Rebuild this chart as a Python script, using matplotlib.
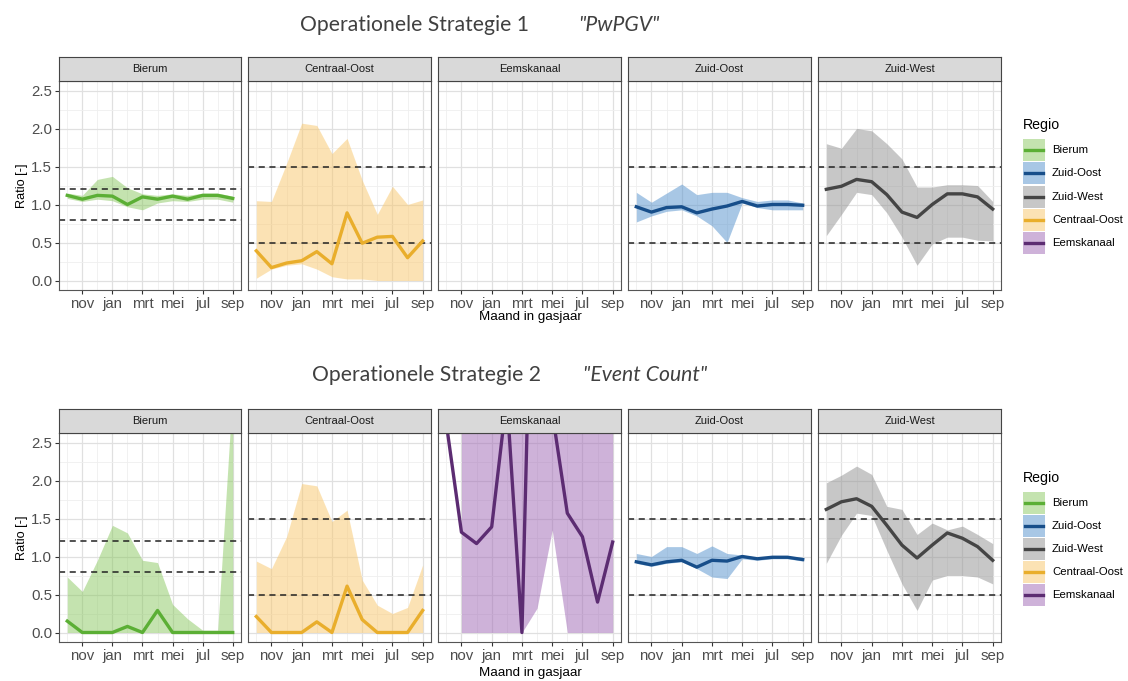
import numpy as np
import matplotlib
matplotlib.use('Agg')
import matplotlib.pyplot as plt
from matplotlib.patches import Rectangle
from matplotlib.lines import Line2D
from matplotlib.ticker import FixedLocator

# ---------------- data ----------------
months = ['okt', 'nov', 'dec', 'jan', 'feb', 'mrt', 'apr', 'mei', 'jun', 'jul', 'aug', 'sep']
tick_labels = ['nov', 'jan', 'mrt', 'mei', 'jul', 'sep']
regions = ['Bierum', 'Centraal-Oost', 'Eemskanaal', 'Zuid-Oost', 'Zuid-West']
legend_order = ['Bierum', 'Zuid-Oost', 'Zuid-West', 'Centraal-Oost', 'Eemskanaal']
nan = float('nan')

# Strategy 1 "PwPGV"
bierum1_mid = [1.12, 1.07, 1.12, 1.11, 1.00, 1.10, 1.07, 1.11, 1.07, 1.12, 1.12, 1.08]
bierum1_lo = [1.08, 1.04, 1.07, 1.05, 0.97, 0.93, 1.02, 1.05, 1.04, 1.07, 1.07, 1.03]
bierum1_hi = [1.15, 1.12, 1.33, 1.37, 1.22, 1.14, 1.12, 1.14, 1.12, 1.15, 1.15, 1.11]
centraal1_mid = [0.39, 0.17, 0.23, 0.26, 0.38, 0.22, 0.89, 0.49, 0.57, 0.58, 0.30, 0.52]
centraal1_lo = [0.03, 0.15, 0.20, 0.22, 0.15, 0.05, 0.02, 0.02, 0.00, 0.00, 0.00, 0.00]
centraal1_hi = [1.05, 1.04, 1.54, 2.07, 2.04, 1.67, 1.87, 1.32, 0.87, 1.24, 1.00, 1.06]
zuidoost1_mid = [0.97, 0.90, 0.96, 0.97, 0.89, 0.94, 0.98, 1.04, 0.98, 1.00, 1.00, 0.99]
zuidoost1_lo = [0.77, 0.85, 0.91, 0.93, 0.85, 0.72, 0.50, 1.02, 0.96, 0.93, 0.93, 0.93]
zuidoost1_hi = [1.16, 1.03, 1.15, 1.27, 1.13, 1.16, 1.16, 1.09, 1.04, 1.06, 1.06, 1.02]
zuidwest1_mid = [1.20, 1.24, 1.33, 1.30, 1.13, 0.90, 0.83, 1.00, 1.14, 1.14, 1.10, 0.94]
zuidwest1_lo = [0.59, 0.87, 1.16, 1.13, 0.89, 0.57, 0.20, 0.48, 0.57, 0.57, 0.53, 0.52]
zuidwest1_hi = [1.80, 1.74, 2.00, 1.97, 1.80, 1.60, 1.23, 1.23, 1.26, 1.26, 1.25, 1.04]

# Strategy 2 "Event Count"
bierum2_mid = [0.15, 0.00, 0.00, 0.00, 0.08, 0.00, 0.29, 0.00, 0.00, 0.00, 0.00, 0.00]
bierum2_lo = [0.00, 0.00, 0.00, 0.00, 0.00, 0.00, 0.00, 0.00, 0.00, 0.00, 0.00, 0.00]
bierum2_hi = [0.73, 0.54, 0.95, 1.41, 1.31, 0.95, 0.92, 0.37, 0.18, 0.03, 0.03, 3.20]
centraal2_mid = [0.21, 0.00, 0.00, 0.00, 0.14, 0.00, 0.61, 0.17, 0.00, 0.00, 0.00, 0.29]
centraal2_lo = [0.00, 0.00, 0.00, 0.00, 0.00, 0.00, 0.00, 0.00, 0.00, 0.00, 0.00, 0.00]
centraal2_hi = [0.94, 0.84, 1.26, 1.96, 1.93, 1.46, 1.61, 0.69, 0.36, 0.25, 0.33, 0.89]
eems2_mid = [2.75, 1.32, 1.17, 1.39, 3.10, 0.00, 7.90, 2.90, 1.57, 1.26, 0.40, 1.19]
eems2_lo = [nan, 0.00, 0.00, 0.00, 0.00, 0.00, 0.32, 1.35, 0.00, 0.00, 0.00, 0.00]
eems2_hi = [nan, 5.00, 5.00, 5.00, 5.00, 5.00, 5.00, 5.00, 5.00, 5.00, 5.00, 5.00]
zuidoost2_mid = [0.93, 0.89, 0.93, 0.95, 0.86, 0.95, 0.94, 1.00, 0.97, 0.99, 0.99, 0.96]
zuidoost2_lo = [0.91, 0.87, 0.91, 0.93, 0.84, 0.73, 0.71, 0.97, 0.95, 0.97, 0.97, 0.94]
zuidoost2_hi = [1.04, 1.00, 1.13, 1.13, 1.04, 1.14, 1.04, 1.02, 0.99, 1.00, 1.00, 0.99]
zuidwest2_mid = [1.62, 1.72, 1.76, 1.66, 1.41, 1.15, 0.98, 1.15, 1.31, 1.24, 1.13, 0.95]
zuidwest2_lo = [0.91, 1.28, 1.57, 1.54, 1.08, 0.64, 0.29, 0.69, 0.75, 0.75, 0.73, 0.64]
zuidwest2_hi = [1.97, 2.07, 2.19, 2.08, 1.66, 1.62, 1.29, 1.44, 1.35, 1.40, 1.29, 1.17]

ref_bierum = [0.8, 1.2]
ref_other = [0.5, 1.5]

strat1 = {
    'Bierum': (bierum1_mid, bierum1_lo, bierum1_hi),
    'Centraal-Oost': (centraal1_mid, centraal1_lo, centraal1_hi),
    'Eemskanaal': None,
    'Zuid-Oost': (zuidoost1_mid, zuidoost1_lo, zuidoost1_hi),
    'Zuid-West': (zuidwest1_mid, zuidwest1_lo, zuidwest1_hi),
}
strat2 = {
    'Bierum': (bierum2_mid, bierum2_lo, bierum2_hi),
    'Centraal-Oost': (centraal2_mid, centraal2_lo, centraal2_hi),
    'Eemskanaal': (eems2_mid, eems2_lo, eems2_hi),
    'Zuid-Oost': (zuidoost2_mid, zuidoost2_lo, zuidoost2_hi),
    'Zuid-West': (zuidwest2_mid, zuidwest2_lo, zuidwest2_hi),
}
refs = {'Bierum': ref_bierum, 'Centraal-Oost': ref_other, 'Eemskanaal': [],
        'Zuid-Oost': ref_other, 'Zuid-West': ref_other}

# ---------------- style ----------------
line_col = {'Bierum': '#5BAF35', 'Centraal-Oost': '#E9AE2C', 'Eemskanaal': '#5C2C72',
            'Zuid-Oost': '#174E8A', 'Zuid-West': '#454545'}
fill_col = {'Bierum': '#8AC860', 'Centraal-Oost': '#F9C76B', 'Eemskanaal': '#9F67B5',
            'Zuid-Oost': '#5391CD', 'Zuid-West': '#919191'}

plt.rcParams['font.family'] = ['Liberation Sans', 'DejaVu Sans']

W, H = 1128, 681
fig = plt.figure(figsize=(W / 100, H / 100), dpi=100)


def ax_px(x0, y0, x1, y1):
    return fig.add_axes([x0 / W, 1 - y1 / H, (x1 - x0) / W, (y1 - y0) / H])


panel_x = [(59, 241), (248, 431), (438, 621), (628, 811), (818, 1001)]
rows = [
    dict(data=strat1, strip=(57, 81), panel=(81, 290), title_y=25,
         t1='Operationele Strategie 1', t1x=300, t2='"PwPGV"', t2x=578,
         xlab_y=317, leg_title_y=125, leg_y=[150, 173, 197, 220, 243]),
    dict(data=strat2, strip=(409, 433), panel=(433, 642), title_y=375,
         t1='Operationele Strategie 2', t1x=312, t2='"Event Count"', t2x=583,
         xlab_y=673, leg_title_y=478, leg_y=[503, 526, 549, 572, 595]),
]

xi = np.arange(len(months))
major_x = [months.index(m) for m in tick_labels]
minor_x = [i for i in xi if i not in major_x]
yt = [0.0, 0.5, 1.0, 1.5, 2.0, 2.5]
ym = [0.25, 0.75, 1.25, 1.75, 2.25]

for row in rows:
    for k, reg in enumerate(regions):
        x0, x1 = panel_x[k]
        ax = ax_px(x0, row['panel'][0], x1, row['panel'][1])
        ax.set_xlim(-0.55, 11.55)
        ax.set_ylim(-0.125, 2.625)
        ax.xaxis.set_major_locator(FixedLocator(major_x))
        ax.set_xticklabels(tick_labels)
        ax.xaxis.set_minor_locator(FixedLocator(minor_x))
        ax.yaxis.set_major_locator(FixedLocator(yt))
        ax.set_yticklabels(['0.0', '0.5', '1.0', '1.5', '2.0', '2.5'])
        ax.yaxis.set_minor_locator(FixedLocator(ym))
        ax.grid(which='major', color='#E0E0E0', lw=0.9)
        ax.grid(which='minor', color='#EFEFEF', lw=0.6)
        ax.set_axisbelow(True)
        for s in ax.spines.values():
            s.set_color('#555555')
            s.set_linewidth(0.8)
        ax.tick_params(which='major', direction='out', length=3, width=0.8,
                       color='#333333', labelsize=10.8, labelcolor='#4D4D4D', pad=2)
        ax.tick_params(which='minor', length=0)
        if k > 0:
            ax.tick_params(axis='y', which='major', length=0, labelleft=False)
        else:
            ax.set_ylabel('Ratio [-]', fontsize=9.2, color='black', labelpad=2)
        d = row['data'][reg]
        if d is not None:
            mid, lo, hi = d
            ax.fill_between(xi, np.array(lo, float), np.array(hi, float),
                            color=fill_col[reg], alpha=0.5, lw=0)
            for r in refs[reg]:
                ax.axhline(r, color='#222222', lw=1.1, ls=(0, (4, 3)))
            ax.plot(xi, mid, color=line_col[reg], lw=2.4)
        # strip
        sax = ax_px(x0, row['strip'][0], x1, row['strip'][1])
        sax.set_facecolor('#D9D9D9')
        sax.set_xticks([])
        sax.set_yticks([])
        for s in sax.spines.values():
            s.set_color('#444444')
            s.set_linewidth(0.8)
        sax.text(0.5, 0.5, reg, ha='center', va='center', fontsize=8.0,
                 color='#1A1A1A', transform=sax.transAxes)

    # titles
    fig.text(row['t1x'] / W, 1 - row['title_y'] / H, row['t1'], ha='left', va='center',
             fontsize=15.2, color='#404040', family=['Lato', 'DejaVu Sans'], weight='normal')
    fig.text(row['t2x'] / W, 1 - row['title_y'] / H, row['t2'], ha='left', va='center',
             fontsize=15.2, color='#404040', family=['Lato', 'DejaVu Sans'], weight='normal',
             style='italic')
    # x axis title
    fig.text(530 / W, 1 - row['xlab_y'] / H, 'Maand in gasjaar', ha='center', va='center',
             fontsize=9.6, color='black')
    # legend
    fig.text(1023 / W, 1 - row['leg_title_y'] / H, 'Regio', ha='left', va='center',
             fontsize=10.2, color='black')
    for reg, yc in zip(legend_order, row['leg_y']):
        fig.add_artist(Rectangle((1023 / W, 1 - (yc + 11) / H), 22 / W, 22 / H,
                                 transform=fig.transFigure, facecolor=fill_col[reg],
                                 alpha=0.5, edgecolor='none'))
        fig.add_artist(Line2D([1025 / W, 1043 / W], [1 - yc / H, 1 - yc / H],
                              transform=fig.transFigure, color=line_col[reg], lw=2.4))
        fig.text(1052 / W, 1 - yc / H, reg, ha='left', va='center', fontsize=8.2,
                 color='black')

fig.savefig('out.png', dpi=100)
